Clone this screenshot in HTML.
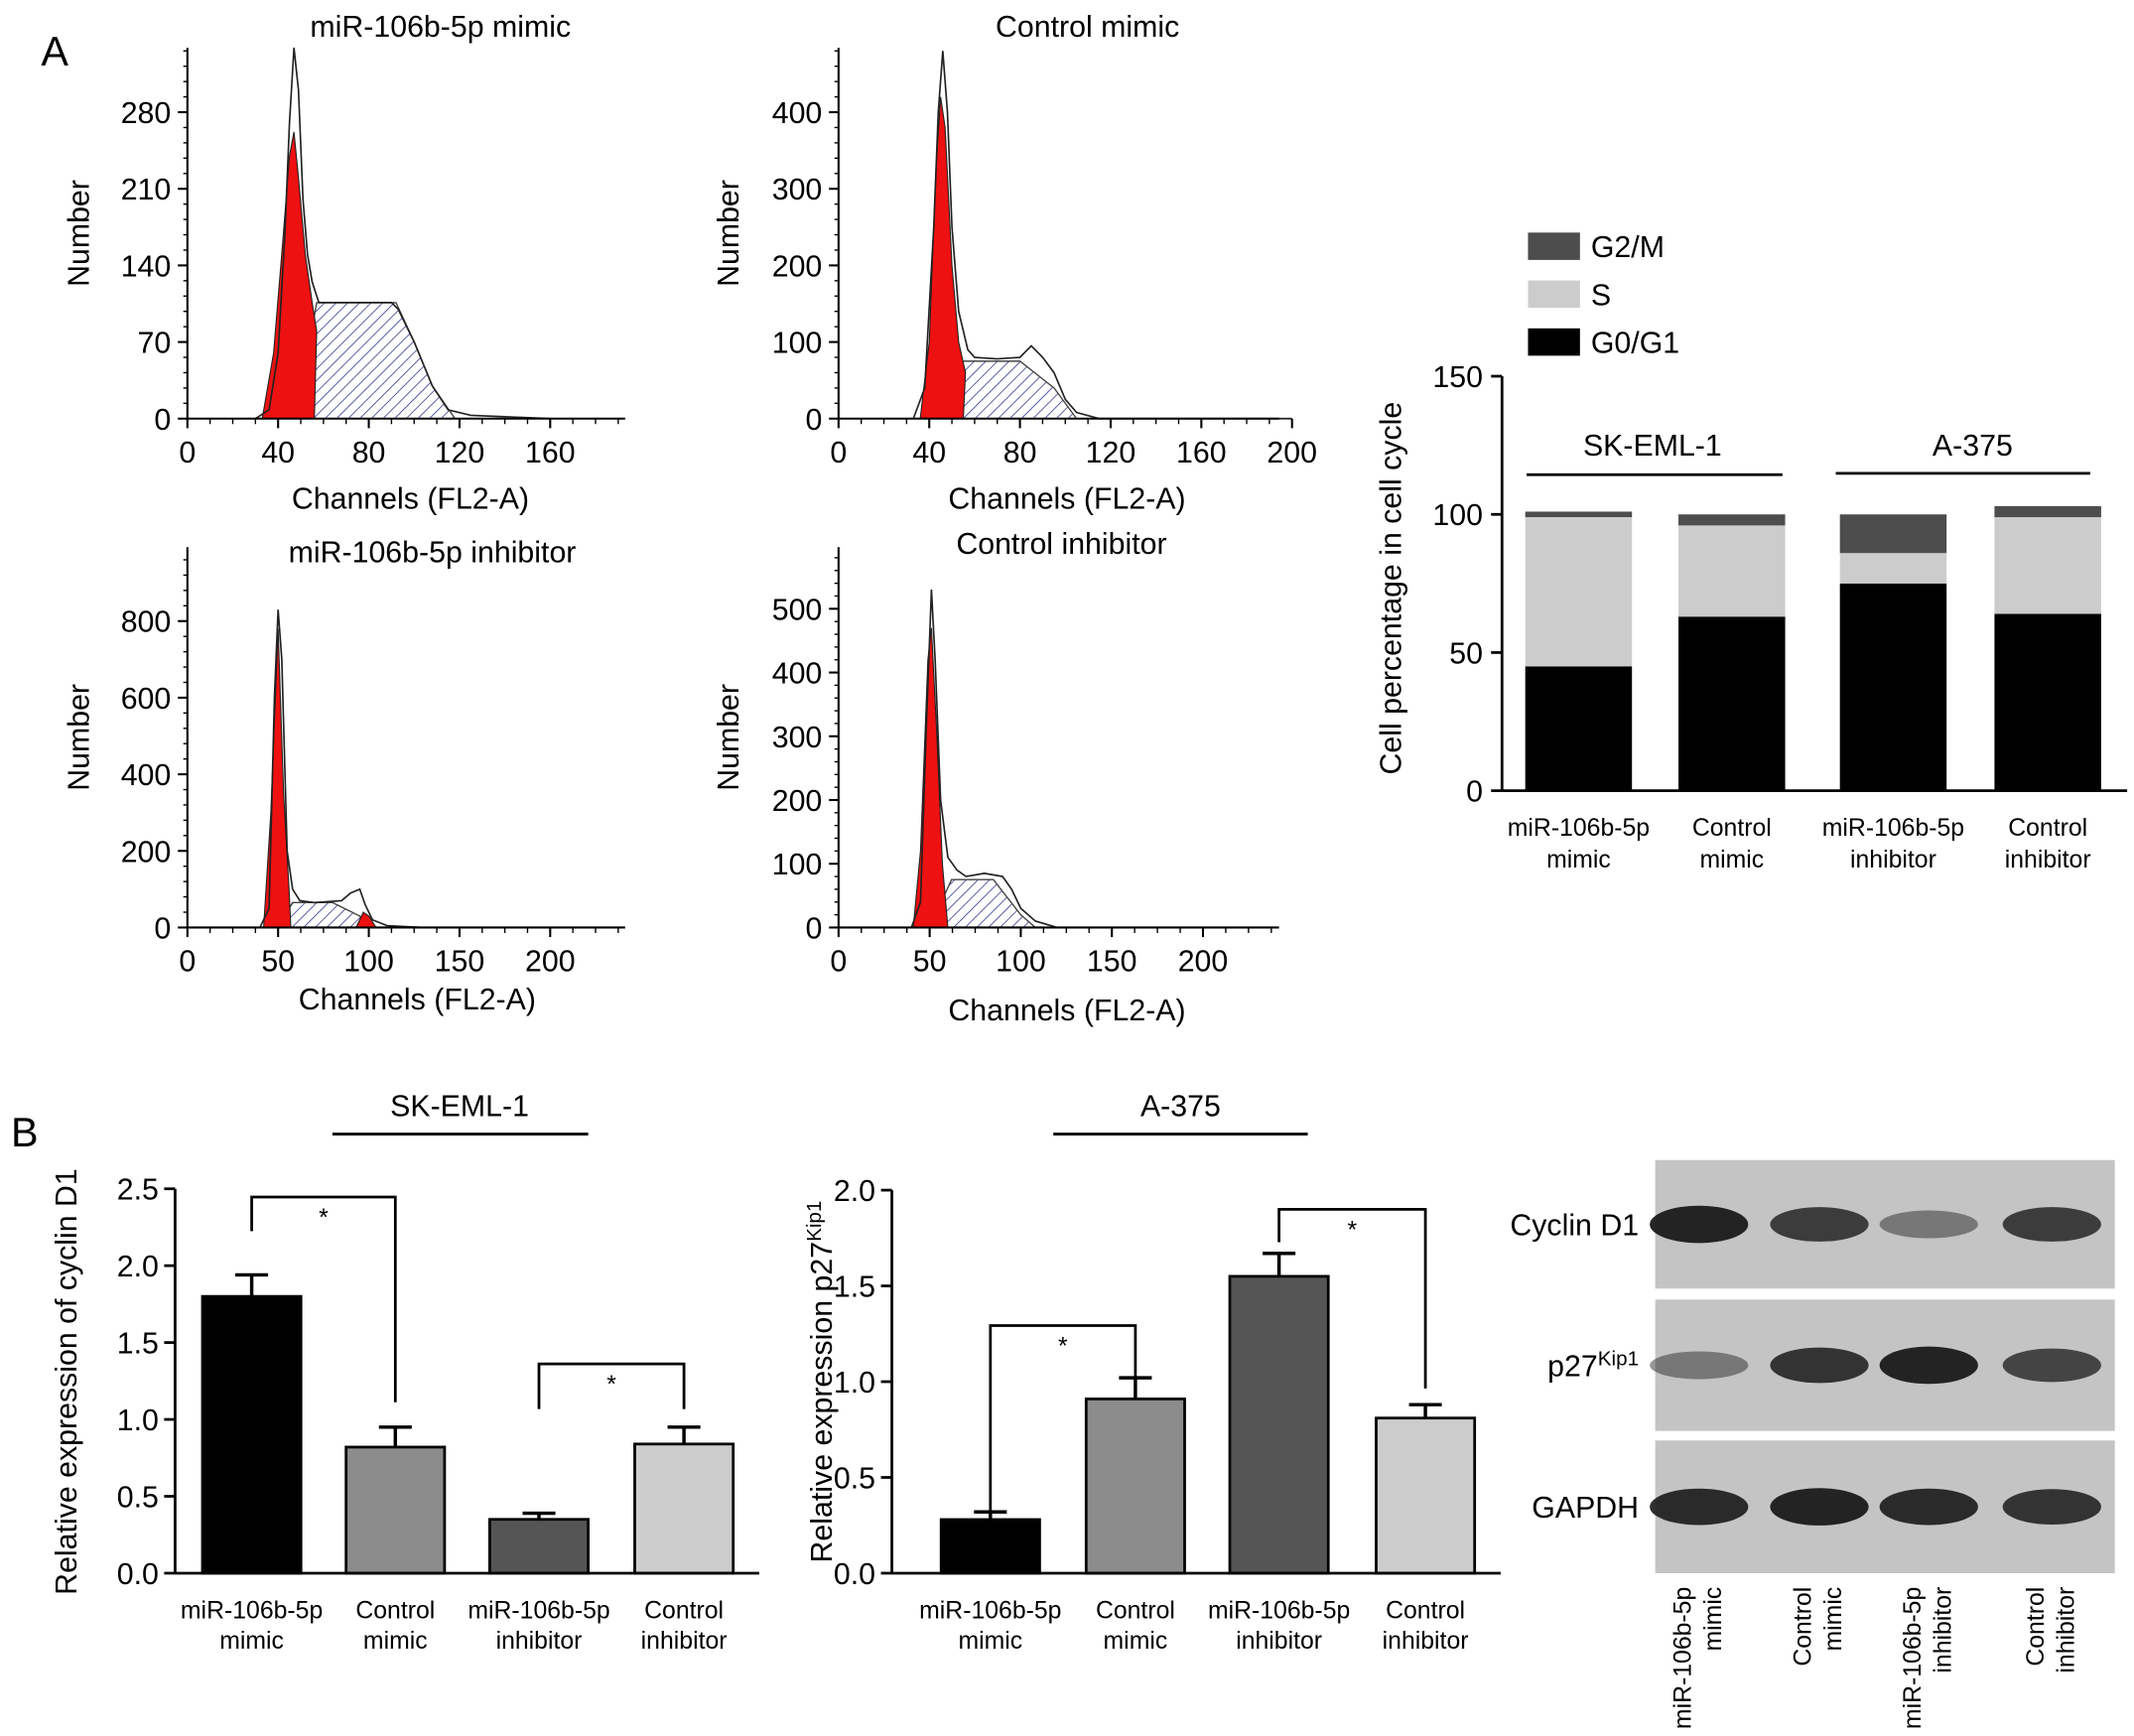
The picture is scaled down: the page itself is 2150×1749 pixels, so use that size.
<!DOCTYPE html>
<html><head><meta charset="utf-8">
<style>
html,body{margin:0;padding:0;background:#fff}
svg{display:block;font-family:"Liberation Sans",Arial,sans-serif}
</style></head>
<body>
<svg id="fig" width="2150" height="1749" viewBox="0 0 1560 1269" xmlns="http://www.w3.org/2000/svg">
<defs>
<pattern id="hatch" patternUnits="userSpaceOnUse" width="6" height="6" patternTransform="rotate(45)">
<rect width="6" height="6" fill="#fff"/><line x1="0" y1="0" x2="0" y2="6" stroke="#3a3f8f" stroke-width="1.2"/>
</pattern>
</defs>
<text x="30" y="48" font-size="30">A</text>
<text x="8" y="838" font-size="30">B</text>
<g id="hists"></g>
<g id="stack"></g>
<g id="bars1"></g>
<g id="bars2"></g>
<g id="blot"></g>
</svg>
<script>
const NS="http://www.w3.org/2000/svg";
function mk(parent,tag,attrs,text){const e=document.createElementNS(NS,tag);for(const k in attrs)e.setAttribute(k,attrs[k]);if(text!==undefined)e.textContent=text;parent.appendChild(e);return e;}

// ---------- Histogram data ----------
const h1Outline=[[30,0],[36,8],[40,60],[43,170],[45,270],[47,339],[49,300],[51,200],[53,150],[55,125],[58,106],[70,106],[90,106],[93,100],[100,70],[108,30],[115,8],[125,3],[160,0]];
const h1Red=[[33,0],[38,60],[42,160],[45,240],[47,262],[49,220],[52,150],[55,106],[57,80],[56,0]];
const h1S=[[48,0],[57,106],[92,106],[100,70],[108,30],[118,0]];
const h2Outline=[[33,0],[38,40],[42,250],[44,400],[46,480],[48,400],[50,250],[53,140],[57,90],[60,80],[70,78],[80,80],[85,95],[90,80],[95,60],[100,25],[105,8],[115,0],[200,0]];
const h2Red=[[36,0],[40,100],[43,330],[45,420],[47,380],[50,200],[53,100],[56,60],[55,0]];
const h2S=[[45,0],[55,75],[80,75],[95,40],[105,0]];
const h3Outline=[[40,0],[45,50],[48,600],[50,830],[52,700],[55,200],[58,100],[62,70],[70,65],[85,70],[90,90],[95,100],[98,60],[102,20],[110,5],[130,0]];
const h3Red=[[42,0],[46,300],[50,780],[53,350],[56,100],[57,0]];
const h3Red2=[[93,0],[97,40],[100,30],[104,0]];
const h3S=[[50,0],[58,65],[80,65],[95,30],[100,0]];
const h4Outline=[[40,0],[45,40],[48,300],[51,530],[53,420],[56,200],[60,110],[65,90],[70,80],[80,85],[90,80],[95,60],[100,30],[108,10],[120,0]];
const h4Red=[[41,0],[45,120],[49,420],[51,470],[54,300],[57,100],[60,0]];
const h4S=[[50,0],[62,75],[85,75],[100,20],[108,0]];

const hist=[
 {name:"mimic",title:"miR-106b-5p mimic",tx:322,ty:27,x0:137,x1:457,base:306,yTicks:[0,70,140,210,280],yStep:56/70,xTicks:[0,40,80,120,160],xPer:66.3/40,outline:h1Outline,reds:[h1Red],s:h1S,xl:300,xly:372,ylx:65,top:35},
 {name:"control-mimic",title:"Control mimic",tx:795,ty:27,x0:613,x1:935,base:306,yTicks:[0,100,200,300,400],yStep:56/100,xTicks:[0,40,80,120,160,200],xPer:66.3/40,outline:h2Outline,reds:[h2Red],s:h2S,xl:780,xly:372,ylx:540,top:35},
 {name:"inhibitor",title:"miR-106b-5p inhibitor",tx:316,ty:411,x0:137,x1:457,base:678,yTicks:[0,200,400,600,800],yStep:56/200,xTicks:[0,50,100,150,200],xPer:66.3/50,outline:h3Outline,reds:[h3Red,h3Red2],s:h3S,xl:305,xly:738,ylx:65,top:400},
 {name:"control-inhibitor",title:"Control inhibitor",tx:776,ty:405,x0:613,x1:935,base:678,yTicks:[0,100,200,300,400,500],yStep:46.6/100,xTicks:[0,50,100,150,200],xPer:66.6/50,outline:h4Outline,reds:[h4Red],s:h4S,xl:780,xly:746,ylx:540,top:400}
];
const hg=document.getElementById('hists');
hist.forEach(h=>{
 const g=mk(hg,'g',{});
 
 
 const X=c=>h.x0+c*h.xPer, Y=v=>h.base-v*h.yStep;
 const poly=pts=>pts.map((p,i)=>(i?'L':'M')+X(p[0]).toFixed(1)+' '+Y(p[1]).toFixed(1)).join(' ');
 const sp=mk(g,'path',{d:poly(h.s)+'Z',fill:'url(#hatch)',stroke:'#444','stroke-width':1});
 
 h.reds.forEach(r=>{const rp=mk(g,'path',{d:poly(r)+'Z',fill:'#ee1111',stroke:'#222','stroke-width':0.8});
  });
 const op=mk(g,'path',{d:poly(h.outline),fill:'none',stroke:'#222','stroke-width':1.2});
 
 mk(g,'line',{x1:h.x0,y1:h.top,x2:h.x0,y2:h.base,stroke:'#000','stroke-width':1.5});
 mk(g,'line',{x1:h.x0,y1:h.base,x2:h.x1,y2:h.base,stroke:'#000','stroke-width':1.5});
 for(let y=h.base;y>=h.top;y-=h.yStep*h.yTicks[1]/5){mk(g,'line',{x1:h.x0-3,y1:y,x2:h.x0,y2:y,stroke:'#000','stroke-width':1});}
 h.yTicks.forEach(t=>{mk(g,'line',{x1:h.x0-7,y1:Y(t),x2:h.x0,y2:Y(t),stroke:'#000','stroke-width':1.5});
  const tt=mk(g,'text',{x:h.x0-12,y:Y(t)+8,'font-size':22,'text-anchor':'end'},t);});
 h.xTicks.forEach(t=>{mk(g,'line',{x1:X(t),y1:h.base,x2:X(t),y2:h.base+7,stroke:'#000','stroke-width':1.5});
  const tt=mk(g,'text',{x:X(t),y:h.base+32,'font-size':22,'text-anchor':'middle'},t);});
 for(let c=0;c<=(h.x1-h.x0)/h.xPer;c+=h.xTicks[1]/4){mk(g,'line',{x1:X(c),y1:h.base,x2:X(c),y2:h.base+4,stroke:'#000','stroke-width':1});}
 const ti=mk(g,'text',{x:h.tx,y:h.ty,'font-size':22,'text-anchor':'middle'},h.title);
 const xl=mk(g,'text',{x:h.xl,y:h.xly,'font-size':22,'text-anchor':'middle'},'Channels (FL2-A)');
 const yc=(h.base+h.top)/2;
 const yl=mk(g,'text',{x:h.ylx,y:yc,'font-size':22,'text-anchor':'middle',transform:`rotate(-90 ${h.ylx} ${yc})`},'Number');
});

// ---------- Stacked bar chart ----------
const stackCats=[["miR-106b-5p","mimic"],["Control","mimic"],["miR-106b-5p","inhibitor"],["Control","inhibitor"]];
const g01=[45,63,75,64];
const sPh=[54,33,11,35];
const g2m=[2,4,14,4];
const stackTicks=[0,50,100,150];
(function(){
 const g=document.getElementById('stack');
 const ax=1098,base=578,per=2.02,cx=[1154,1266,1384,1497],bw=78;
 const Y=v=>base-v*per;
 for(let i=0;i<stackCats.length;i++){
  let acc=0;
  [[g01,'#000','g0-g1'],[sPh,'#cccccc','s-phase'],[g2m,'#4d4d4d','g2-m']].forEach(s=>{
   const v=s[0][i];
   const r=mk(g,'rect',{x:cx[i]-bw/2,y:Y(acc+v),width:bw,height:v*per,fill:s[1]});
   
   acc+=v;});
  const t1=mk(g,'text',{x:cx[i],y:611,'font-size':18,'text-anchor':'middle'},stackCats[i][0]);
  
  mk(g,'text',{x:cx[i],y:634,'font-size':18,'text-anchor':'middle'},stackCats[i][1]);
 }
 mk(g,'line',{x1:ax,y1:Y(150),x2:ax,y2:base,stroke:'#000','stroke-width':2});
 mk(g,'line',{x1:ax,y1:base,x2:1555,y2:base,stroke:'#000','stroke-width':2});
 stackTicks.forEach(t=>{mk(g,'line',{x1:ax-8,y1:Y(t),x2:ax,y2:Y(t),stroke:'#000','stroke-width':2});
  const tt=mk(g,'text',{x:ax-14,y:Y(t)+8,'font-size':22,'text-anchor':'end'},t);});
 const yl=mk(g,'text',{x:1024,y:430,'font-size':22,'text-anchor':'middle',transform:'rotate(-90 1024 430)'},'Cell percentage in cell cycle');
 
 [['G2/M','#4d4d4d',180],['S','#cccccc',215],['G0/G1','#000',250]].forEach(l=>{
  const r=mk(g,'rect',{x:1117,y:l[2]-10,width:38,height:20,fill:l[1]});
  const t=mk(g,'text',{x:1163,y:l[2]+8,'font-size':22},l[0]);});
 mk(g,'line',{x1:1116,y1:347,x2:1303,y2:347,stroke:'#000','stroke-width':2});
 mk(g,'line',{x1:1342,y1:346,x2:1528,y2:346,stroke:'#000','stroke-width':2});
 const a=mk(g,'text',{x:1208,y:333,'font-size':22,'text-anchor':'middle'},'SK-EML-1');
 const b=mk(g,'text',{x:1442,y:333,'font-size':22,'text-anchor':'middle'},'A-375');
})();

// ---------- Bar charts B ----------
const barCats=[["miR-106b-5p","mimic"],["Control","mimic"],["miR-106b-5p","inhibitor"],["Control","inhibitor"]];
const cyclinVals=[1.8,0.82,0.35,0.84];
const cyclinErr=[0.14,0.13,0.04,0.11];
const cyclinTicks=[0,0.5,1.0,1.5,2.0,2.5];
const p27Vals=[0.28,0.91,1.55,0.81];
const p27Err=[0.04,0.11,0.12,0.07];
const p27Ticks=[0,0.5,1.0,1.5,2.0];
const barColors=['#000','#8c8c8c','#555555','#cccccc'];
function barChart(id,vals,errs,ticks,ax,base,per,cx,ymax,label,labx,group,glx,gl,brackets,p27){
 const g=document.getElementById(id);
 const Y=v=>base-v*per;
 vals.forEach((v,i)=>{
  const r=mk(g,'rect',{x:cx[i]-36,y:Y(v),width:72,height:v*per,fill:barColors[i],stroke:'#000','stroke-width':2});
  
  const e=mk(g,'path',{d:`M${cx[i]} ${Y(v)} V${Y(v+errs[i])} M${cx[i]-12} ${Y(v+errs[i])} H${cx[i]+12}`,stroke:'#000','stroke-width':2.5,fill:'none'});
  
  const t=mk(g,'text',{x:cx[i],y:1183,'font-size':18,'text-anchor':'middle'},barCats[i][0]);
  mk(g,'text',{x:cx[i],y:1205,'font-size':18,'text-anchor':'middle'},barCats[i][1]);
 });
 mk(g,'line',{x1:ax,y1:Y(ymax),x2:ax,y2:base,stroke:'#000','stroke-width':2});
 mk(g,'line',{x1:ax,y1:base,x2:cx[3]+55,y2:base,stroke:'#000','stroke-width':2});
 ticks.forEach(t=>{mk(g,'line',{x1:ax-8,y1:Y(t),x2:ax,y2:Y(t),stroke:'#000','stroke-width':2});
  const tt=mk(g,'text',{x:ax-12,y:Y(t)+8,'font-size':22,'text-anchor':'end'},t.toFixed(1));});
 const yc=1010;
 const yl=mk(g,'text',{x:labx,y:yc,'font-size':22,'text-anchor':'middle',transform:`rotate(-90 ${labx} ${yc})`});
 
 if(p27){yl.appendChild(document.createTextNode('Relative expression p27'));mk(yl,'tspan',{'font-size':15,dy:-8},'Kip1');}
 else yl.textContent=label;
 const gt=mk(g,'text',{x:glx,y:gl[2]-13,'font-size':22,'text-anchor':'middle'},group);
 mk(g,'line',{x1:gl[0],y1:gl[2],x2:gl[1],y2:gl[2],stroke:'#000','stroke-width':2});
 brackets.forEach(b=>{
  const p=mk(g,'path',{d:`M${cx[b[0]]} ${b[2]} V${b[3]} H${cx[b[1]]} V${b[4]}`,stroke:'#000','stroke-width':2,fill:'none'});
  
  const s=mk(g,'text',{x:(cx[b[0]]+cx[b[1]])/2,y:b[3]+21,'font-size':18,'text-anchor':'middle'},'*');
 });
}
barChart('bars1',cyclinVals,cyclinErr,cyclinTicks,128,1150,112.4,[184,289,394,500],2.5,'Relative expression of cyclin D1',56,'SK-EML-1',336,[243,430,829],
 [[0,1,900,875,1025],[2,3,1030,997,1030]],false);
barChart('bars2',p27Vals,p27Err,p27Ticks,652,1150,140,[724,830,935,1042],2.0,'',608,'A-375',863,[770,956,829],
 [[0,1,1108,969,1017],[2,3,908,884,1015]],true);

// ---------- Western blot ----------
const blotRows=[["Cyclin D1",848,942],["p27Kip1",950,1046],["GAPDH",1053,1150]];
const blotIntensity=[[0.95,0.8,0.45,0.8],[0.45,0.85,0.95,0.75],[0.9,0.95,0.9,0.85]];
const laneLabels=["miR-106b-5p mimic","Control mimic","miR-106b-5p inhibitor","Control inhibitor"];
(function(){
 const g=document.getElementById('blot');
 const lx=[1242,1330,1410,1500];
 blotRows.forEach((r,ri)=>{
  const bg=mk(g,'rect',{x:1210,y:r[1],width:336,height:r[2]-r[1],fill:'#c4c4c4'});
  
  const cy=(r[1]+r[2])/2;
  blotIntensity[ri].forEach((v,i)=>{
   const e=mk(g,'ellipse',{cx:lx[i],cy:cy,rx:36,ry:7+7*v,fill:'#1a1a1a','fill-opacity':v});
   
  });
  const t=mk(g,'text',{x:1198,y:cy+8,'font-size':22,'text-anchor':'end'});
  
  if(r[0]==='p27Kip1'){t.appendChild(document.createTextNode('p27'));mk(t,'tspan',{'font-size':15,dy:-8},'Kip1');}
  else t.textContent=r[0];
 });
 laneLabels.forEach((l,i)=>{
  const parts=l.split(' ');const a=parts.slice(0,-1).join(' '),b=parts[parts.length-1];
  const t=mk(g,'text',{x:0,y:0,'font-size':18,'text-anchor':'end',transform:`translate(${lx[i]-6} 1160) rotate(-90)`},a);
  
  mk(g,'text',{x:0,y:0,'font-size':18,'text-anchor':'end',transform:`translate(${lx[i]+16} 1160) rotate(-90)`},b);
 });
})();
</script>
</body></html>
